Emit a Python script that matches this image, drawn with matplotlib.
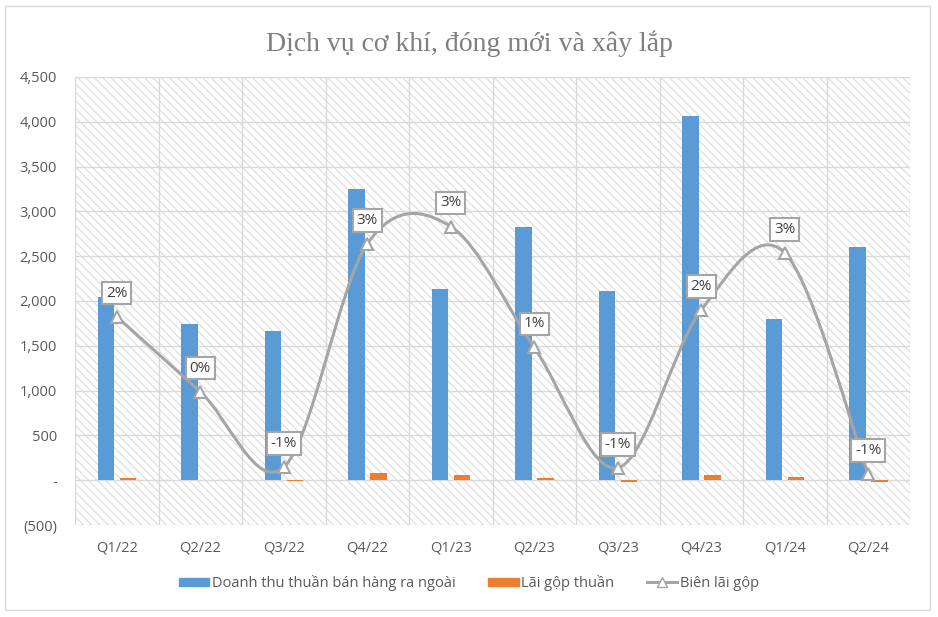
import matplotlib

matplotlib.use("Agg")
import matplotlib.pyplot as plt
import numpy as np
from matplotlib.lines import Line2D
from matplotlib.patches import PathPatch, Rectangle
from matplotlib.path import Path
from matplotlib.ticker import FuncFormatter, MultipleLocator

quarters = ["Q1/22", "Q2/22", "Q3/22", "Q4/22", "Q1/23", "Q2/23", "Q3/23", "Q4/23", "Q1/24", "Q2/24"]
revenue = [2040, 1740, 1670, 3250, 2130, 2830, 2110, 4060, 1800, 2600]
gross_profit = [20, 0, -10, 85, 55, 25, -20, 55, 35, -20]
gross_margin = [0.0172, 0.0038, -0.0097, 0.0302, 0.0333, 0.0117, -0.0098, 0.0184, 0.0286, -0.0109]

BLUE = "#5B9BD5"
ORANGE = "#ED7D31"
GRAY_LINE = "#A5A5A5"
GRID = "#D9D9D9"
TEXT = "#595959"

plt.rcParams["font.family"] = ["Open Sans", "DejaVu Sans"]
plt.rcParams["hatch.linewidth"] = 0.8


def fmt_thousands(v, _pos):
    if abs(v) < 1e-9:
        return "-"
    if v < 0:
        return f"({abs(v):,.0f})"
    return f"{v:,.0f}"


def smooth_path(xs, ys):
    # Excel-style smoothed line: cubic Bezier through each point
    pts = np.column_stack([xs, ys]).astype(float)
    n = len(pts)
    verts = [pts[0]]
    codes = [Path.MOVETO]
    for i in range(n - 1):
        prev_p = pts[i - 1] if i > 0 else pts[i]
        next_p = pts[i + 2] if i + 2 < n else pts[i + 1]
        c1 = pts[i] + (pts[i + 1] - prev_p) / 6
        c2 = pts[i + 1] - (next_p - pts[i]) / 6
        verts += [c1, c2, pts[i + 1]]
        codes += [Path.CURVE4] * 3
    return Path(verts, codes)


fig = plt.figure(figsize=(9.38, 6.17), dpi=100)
ax = fig.add_axes([75 / 938, 1 - 525 / 617, 835 / 938, 448 / 617])

# chart border
fig.patches.append(
    Rectangle((5 / 938, 7 / 617), 925 / 938, 604 / 617, transform=fig.transFigure,
              facecolor="none", edgecolor="#D9D9D9", linewidth=1.0)
)

# hatched plot area
ax.add_patch(
    Rectangle((0, 0), 1, 1, transform=ax.transAxes, facecolor="white",
              edgecolor="#DCDCDC", hatch="\\" * 4, linewidth=0, zorder=0)
)

x = np.arange(len(quarters))
width = 0.2
ax.bar(x - 0.128, revenue, width, color=BLUE, zorder=3, label="Doanh thu thuần bán hàng ra ngoài")
ax.bar(x + 0.135, gross_profit, width, color=ORANGE, zorder=3, label="Lãi gộp thuần")

ax.set_xlim(-0.5, len(quarters) - 0.5)
ax.set_ylim(-500, 4500)
ax.yaxis.set_major_locator(MultipleLocator(500))
ax.yaxis.set_major_formatter(FuncFormatter(fmt_thousands))
ax.set_xticks(x)
ax.set_xticklabels(quarters)
ax.set_xticks(np.arange(-0.5, len(quarters), 1.0), minor=True)
ax.grid(axis="y", which="major", color=GRID, linewidth=1.0, zorder=1)
ax.grid(axis="x", which="minor", color=GRID, linewidth=1.0, zorder=1)
ax.tick_params(axis="both", which="both", length=0, labelsize=10.5, labelcolor=TEXT)
ax.tick_params(axis="y", pad=13)
ax.tick_params(axis="x", pad=11)
ax.set_axisbelow(True)
for sp in ax.spines.values():
    sp.set_visible(False)

ax2 = ax.twinx()
ax2.set_ylim(-0.02, 0.06)
ax2.set_yticks([])
for sp in ax2.spines.values():
    sp.set_visible(False)

ax2.add_patch(PathPatch(smooth_path(x, gross_margin), facecolor="none",
                        edgecolor=GRAY_LINE, linewidth=2.2, zorder=4))
ax2.plot(x, gross_margin, linestyle="none", marker="^", markersize=8,
         markerfacecolor="white", markeredgecolor=GRAY_LINE, markeredgewidth=1.5, zorder=5)

for xi, v in zip(x, gross_margin):
    ax2.annotate(f"{v:.0%}", (xi, v), xytext=(0, 17), textcoords="offset points",
                 ha="center", va="center", fontsize=11, color="#404040", zorder=6,
                 bbox=dict(boxstyle="square,pad=0.25", facecolor="white",
                           edgecolor=GRAY_LINE, linewidth=1.5))

fig.text(0.5, 1 - 44 / 617, "Dịch vụ cơ khí, đóng mới và xây lắp", ha="center", va="center",
         fontsize=20, color="#7F7F7F", family=["Liberation Serif", "DejaVu Serif"])

handles = [
    Rectangle((0, 0), 1, 1, color=BLUE),
    Rectangle((0, 0), 1, 1, color=ORANGE),
    Line2D([], [], color=GRAY_LINE, linewidth=2.2, marker="^", markersize=7,
           markerfacecolor="white", markeredgecolor=GRAY_LINE),
]
labels = ["Doanh thu thuần bán hàng ra ngoài", "Lãi gộp thuần", "Biên lãi gộp"]
fig.legend(handles, labels, loc="center", bbox_to_anchor=(0.5, 1 - 583 / 617), ncol=3,
           frameon=False, fontsize=10.5, labelcolor=TEXT, handlelength=2.1,
           handleheight=0.5, handletextpad=0.2, columnspacing=2.2)

fig.savefig("out.png", dpi=100)
